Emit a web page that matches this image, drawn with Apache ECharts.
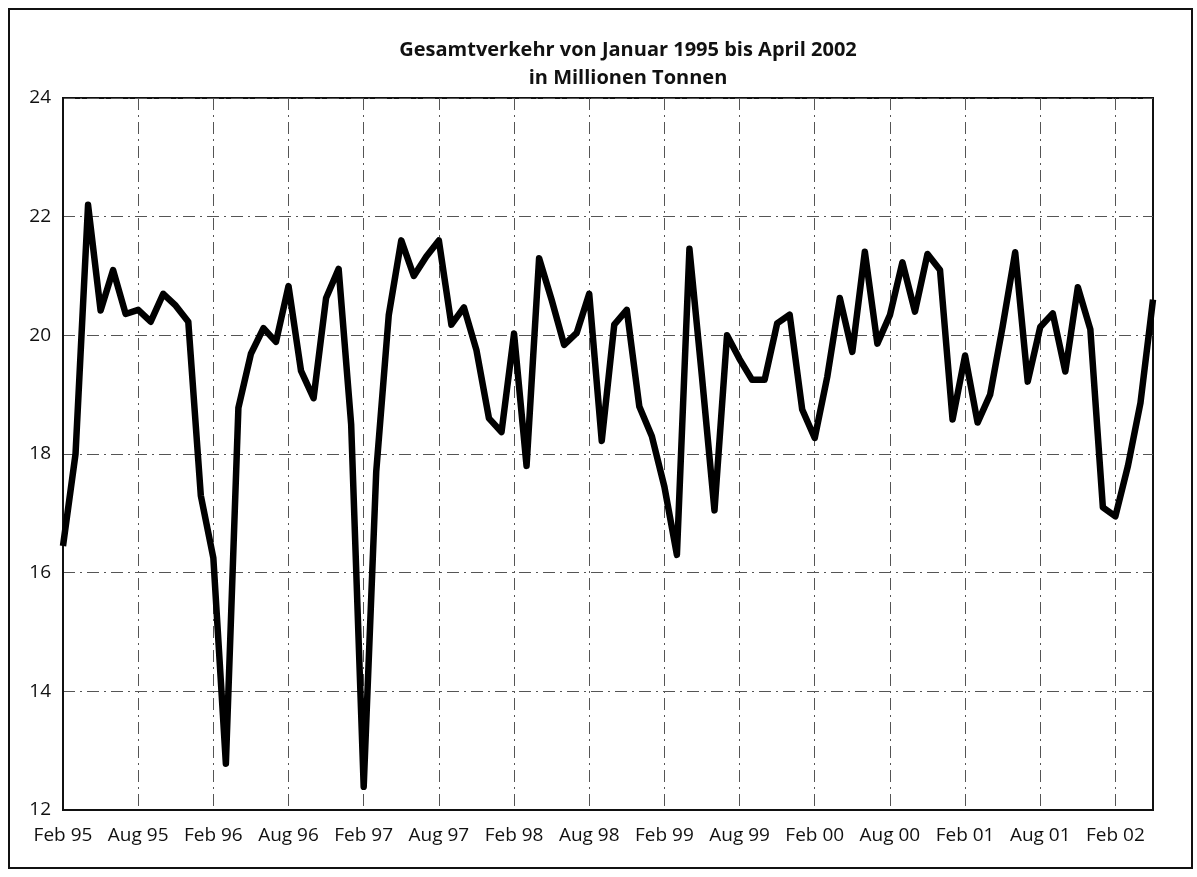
<!DOCTYPE html>
<html>
<head>
<meta charset="utf-8">
<script src="https://cdn.jsdelivr.net/npm/echarts@6/dist/echarts.min.js"></script>
<style>
html,body{margin:0;padding:0;background:#fff;}
#chart{width:1197px;height:877px;}
</style>
</head>
<body>
<div id="chart"></div>
<script>
// Month names used for the category axis (first category shown as "Feb 95")
var monthNames = ["Jan","Feb","Mar","Apr","Mai","Jun","Jul","Aug","Sep","Okt","Nov","Dez"];
var startMonth = 1;   // Feb
var startYear = 95;

// Gesamtverkehr in Millionen Tonnen (88 monthly values)
var values = [
  16.45, 18.0, 22.2, 20.42, 21.1, 20.36, 20.43, 20.23, 20.7, 20.5, 20.23, 17.3,
  16.25, 12.78, 18.78, 19.69, 20.12, 19.89, 20.83, 19.4, 18.94, 20.63, 21.12, 18.5,
  12.39, 17.7, 20.34, 21.6, 21.0, 21.33, 21.6, 20.18, 20.47, 19.75, 18.6, 18.37,
  20.03, 17.8, 21.3, 20.6, 19.84, 20.04, 20.7, 18.22, 20.18, 20.43, 18.8, 18.3,
  17.45, 16.3, 21.46, 19.3, 17.05, 20.0, 19.6, 19.25, 19.25, 20.2, 20.35, 18.75,
  18.27, 19.3, 20.63, 19.72, 21.41, 19.86, 20.34, 21.23, 20.4, 21.37, 21.1, 18.58,
  19.66, 18.53, 19.0, 20.15, 21.4, 19.22, 20.14, 20.37, 19.39, 20.81, 20.1, 17.1,
  16.95, 17.8, 18.86, 20.6
];

var titleLines = ["Gesamtverkehr von Januar 1995 bis April 2002", "in Millionen Tonnen"];

var categories = values.map(function(v, i){
  var m = startMonth + i;
  var mm = m % 12;
  var yy = (startYear + Math.floor(m / 12)) % 100;
  return monthNames[mm] + " " + (yy < 10 ? "0" + yy : "" + yy);
});

var chart = echarts.init(document.getElementById('chart'), null, {renderer:'canvas'});
var FONT = '"Open Sans", "DejaVu Sans", sans-serif';
chart.setOption({
  animation: false,
  backgroundColor: '#fff',
  title: {
    text: titleLines.join('\n'),
    left: 623,
    top: 31,
    textAlign: 'center',
    textStyle: {fontFamily: FONT, fontSize: 20, fontWeight: 'bold', color: '#111', lineHeight: 28}
  },
  graphic: [{
    type: 'rect',
    shape: {x: 9, y: 9, width: 1183, height: 859},
    style: {fill: 'none', stroke: '#111', lineWidth: 2},
    silent: true, z: -1
  }],
  grid: {
    left: 63, top: 98, width: 1090, height: 712,
    show: true, borderColor: '#111', borderWidth: 2, backgroundColor: 'transparent'
  },
  xAxis: {
    type: 'category',
    data: categories,
    boundaryGap: false,
    axisLine: {show: true, lineStyle: {color: '#111', width: 2}},
    axisTick: {show: false},
    axisLabel: {
      interval: 5, margin: 16, color: '#111',
      fontFamily: FONT, fontSize: 19
    },
    splitLine: {
      show: true, interval: 5,
      lineStyle: {color: '#555', width: 1, type: [12, 5, 2, 5]}
    }
  },
  yAxis: {
    type: 'value',
    min: 12, max: 24, interval: 2,
    axisLine: {show: true, lineStyle: {color: '#111', width: 2}},
    axisTick: {show: false},
    axisLabel: {margin: 12, color: '#111', fontFamily: FONT, fontSize: 19},
    splitLine: {show: true, lineStyle: {color: '#555', width: 1, type: [12, 5, 2, 5]}}
  },
  series: [{
    type: 'line',
    data: values,
    symbol: 'none',
    lineStyle: {color: '#000', width: 6.5, join: 'round'},
    z: 5
  }]
});
</script>
</body>
</html>
